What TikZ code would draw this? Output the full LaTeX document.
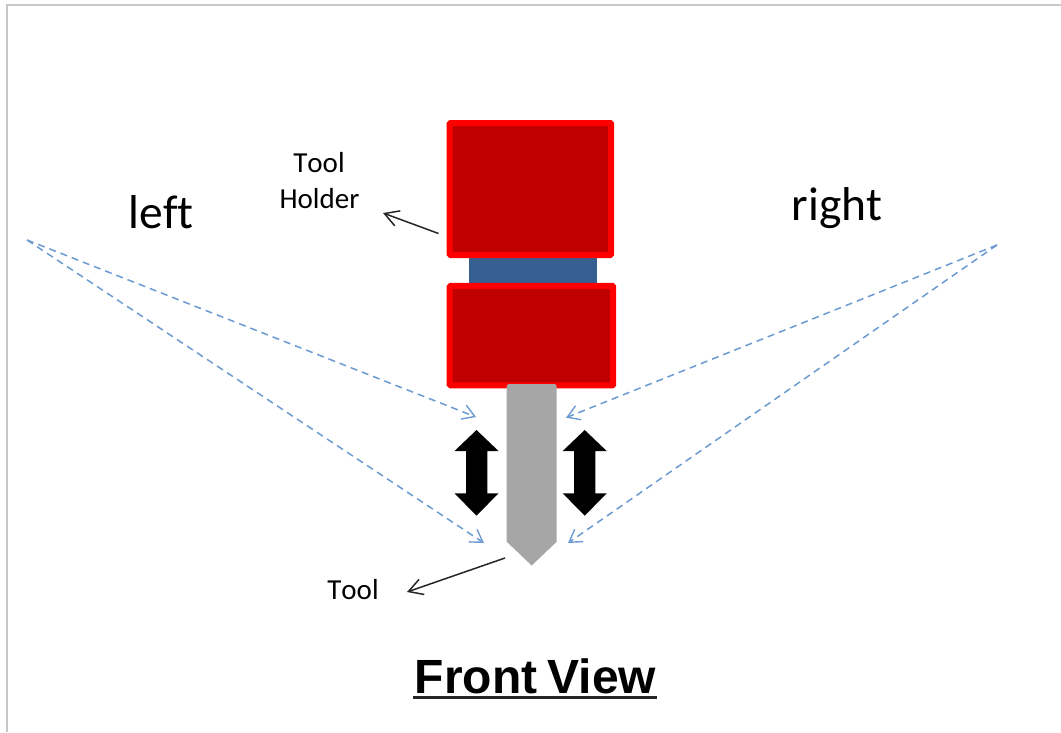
\documentclass[tikz,border=0pt]{standalone}
\usepackage{fontspec}
\setmainfont{Carlito}[Ligatures=NoCommon,Kerning=Off]
\newfontfamily\arialfont{Liberation Sans}
\usetikzlibrary{arrows.meta}
\definecolor{holderred}{HTML}{C00000}
\definecolor{linkblue}{HTML}{376092}
\definecolor{toolgray}{HTML}{A6A6A6}
\definecolor{dashblue}{HTML}{6C9BD2}
\definecolor{framegray}{HTML}{C8C8C8}
\tikzset{
  x=1pt,y=-1pt,
  holder/.style={draw=red,fill=holderred,line width=6pt,rounded corners=1pt,inner sep=0pt,outer sep=0pt,anchor=north west},
  link/.style={fill=linkblue,inner sep=0pt,outer sep=0pt,anchor=north west,minimum width=128pt,minimum height=27pt},
  sightline/.style={draw=dashblue,line width=1.5pt,dash pattern=on 7pt off 5pt,-{Straight Barb[length=12pt,width=15pt,line width=1.4pt]}},
  pointer/.style={draw=black!85,line width=1.5pt,-{Straight Barb[length=14pt,width=16pt,line width=1.5pt]}},
  motion/.style={fill=black},
  small/.style={font=\fontsize{29}{34}\selectfont,inner sep=0pt,align=center},
  big/.style={font=\fontsize{47.5}{54}\selectfont,inner sep=0pt},
}
\begin{document}
\begin{tikzpicture}
\useasboundingbox (0,0) rectangle (1061,732);
\fill[white] (0,0) rectangle (1061,732);
\draw[framegray,line width=2pt] (7,732) -- (7,5) -- (1061,5);
% holder
\node[link] (linkbar) at (468.7,257) {};
\node[holder,minimum width=161.5pt,minimum height=132pt] (upper) at (449.7,123) {};
\node[holder,minimum width=163.5pt,minimum height=99.5pt] (lower) at (449.7,285.8) {};
% tool
\fill[toolgray] (506.7,541.7) [rounded corners=2.5pt] -- (506.7,384) -- (556.7,384) [sharp corners] -- (556.7,541.7) -- (531.7,565.5) -- cycle;
% double arrows
\fill[motion] (476.5,430) -- (498.5,451) -- (487.3,451) -- (487.3,493.3) -- (498.5,493.3) -- (476.5,515.7) -- (454.5,493.3) -- (466,493.3) -- (466,451) -- (454.5,451) -- cycle;
\fill[motion] (584.7,430) -- (606.7,451) -- (595.3,451) -- (595.3,493.3) -- (606.7,493.3) -- (584.7,515.7) -- (562.7,493.3) -- (574,493.3) -- (574,451) -- (562.7,451) -- cycle;
% sight lines
\coordinate (leftsrc) at (27,240);
\coordinate (rightsrc) at (997,245);
\coordinate (leftupper) at (476,417);
\coordinate (leftlower) at (484,543);
\coordinate (rightupper) at (566,417.7);
\coordinate (rightlower) at (568,543);
\draw[sightline] (leftsrc) -- (leftupper);
\draw[sightline] (leftsrc) -- (leftlower);
\draw[sightline] (rightsrc) -- (rightupper);
\draw[sightline] (rightsrc) -- (rightlower);
% labels
\node[big] (leftlabel) at (161,212) {left};
\node[big] (rightlabel) at (837,208) {right};
\node[small] (tool1) at (319,163) {Tool};
\node[small] (holdertext) at (319.5,199) {Holder};
\node[small] (toollabel) at (353,590) {Tool};
\coordinate (holderfrom) at (438.5,233.5);
\coordinate (holderto) at (383,213);
\coordinate (toolfrom) at (505,558);
\coordinate (toolto) at (407,592);
\draw[pointer] (holderfrom) -- (holderto);
\draw[pointer] (toolfrom) -- (toolto);
\node[inner sep=0pt,font=\arialfont\bfseries\fontsize{48}{54}\selectfont] (title) at (535.5,676) {Front\hspace{10pt}View};
\draw[black!85,line width=3pt] (413,697) -- (656.5,697);
\end{tikzpicture}
\end{document}
